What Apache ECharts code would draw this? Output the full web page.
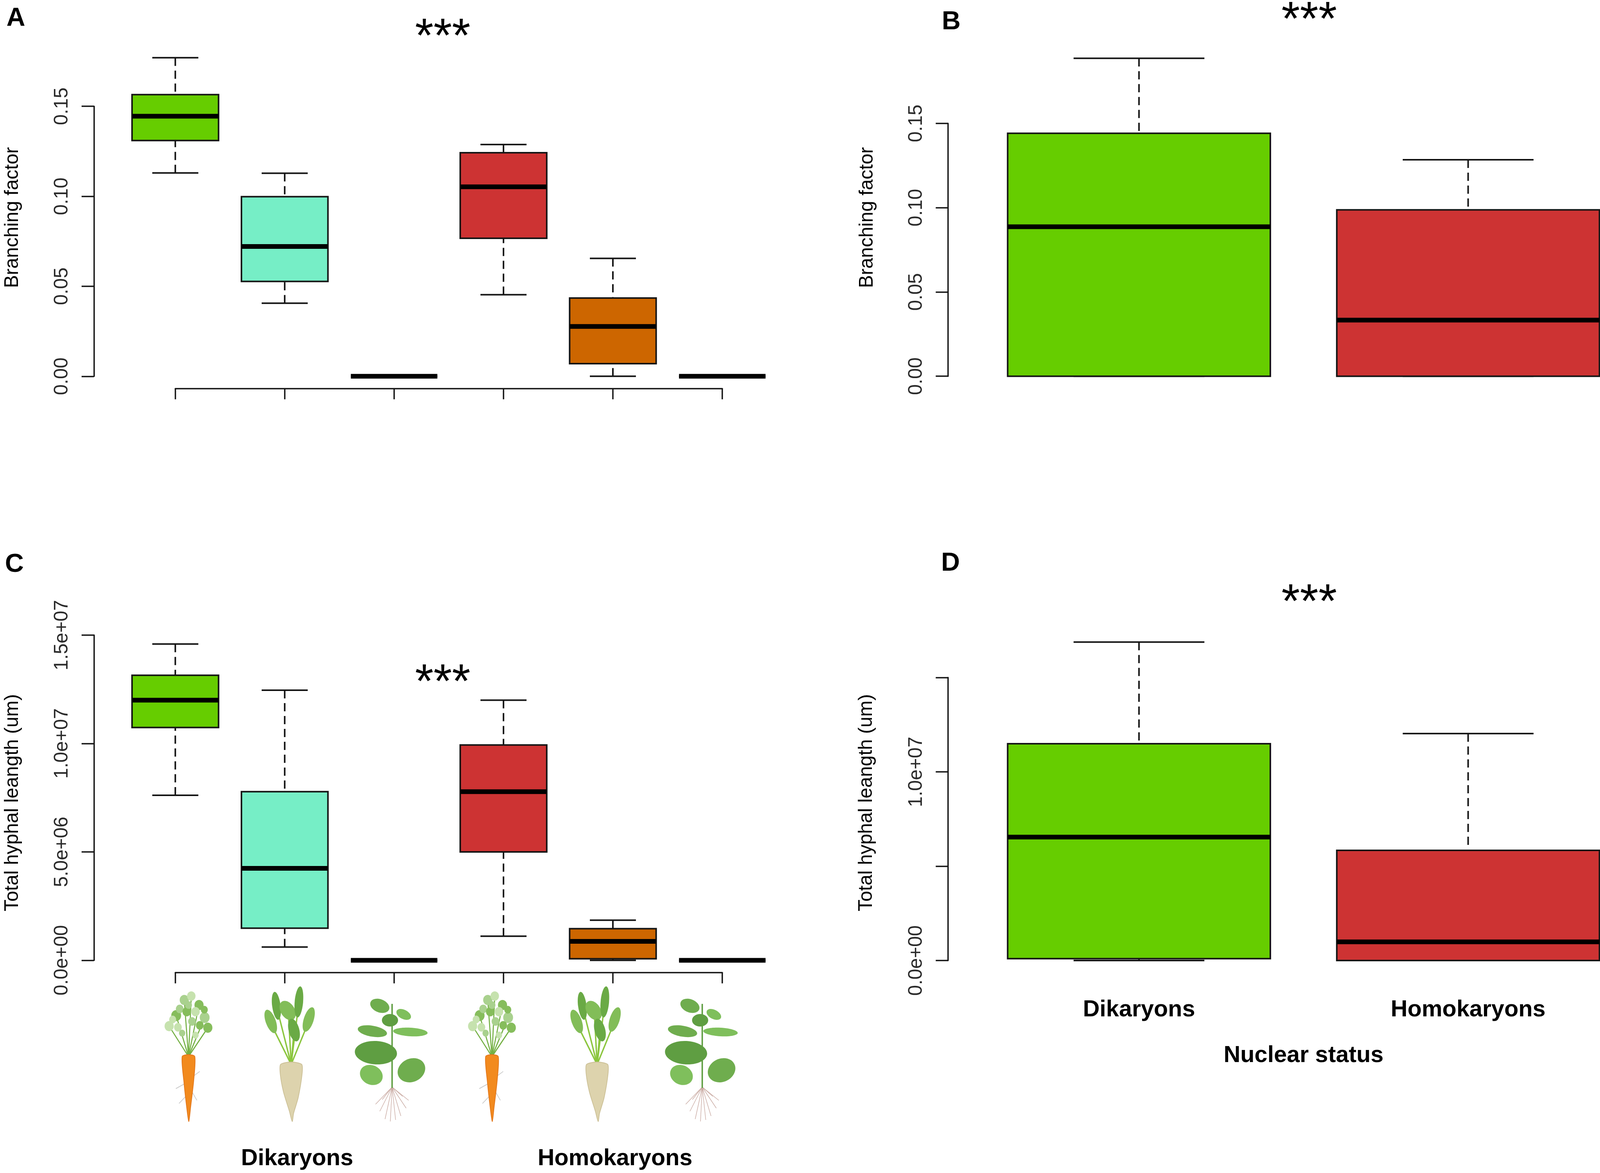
<!DOCTYPE html>
<html>
<head>
<meta charset="utf-8">
<title>Branching factor and total hyphal length</title>
<script src="https://cdn.jsdelivr.net/npm/echarts@6/dist/echarts.min.js"></script>
<style>
  html, body { margin: 0; padding: 0; background: #fff; overflow: hidden; }
  #chart { width: 100vw; height: 100vh; }
</style>
</head>
<body>
<div id="chart"></div>
<script>
// box stats per group: [lower whisker, Q1, median, Q3, upper whisker]
// groups 1-3 dikaryons, 4-6 homokaryons (carrot, sugar beet, plant)
var hostBranching = [
  [0.113, 0.131, 0.1445, 0.1565, 0.177],
  [0.0406, 0.0527, 0.0721, 0.0998, 0.1128],
  [0, 0, 0, 0, 0],
  [0.0453, 0.0767, 0.1053, 0.1242, 0.1288],
  [0, 0.007, 0.0277, 0.0435, 0.0655],
  [0, 0, 0, 0, 0]
];
var hostLength = [
  [7.61e6, 1.074e7, 1.2e7, 1.315e7, 1.459e7],
  [6.1e5, 1.48e6, 4.24e6, 7.78e6, 1.246e7],
  [0, 0, 0, 0, 0],
  [1.11e6, 5.0e6, 7.78e6, 9.93e6, 1.2e7],
  [0, 7e4, 8.7e5, 1.46e6, 1.85e6],
  [0, 0, 0, 0, 0]
];
var nuclearGroups = ['Dikaryons', 'Homokaryons'];
var nuclearBranching = [
  [0, 0, 0.0887, 0.1441, 0.1886],
  [0, 0, 0.0333, 0.0987, 0.1284]
];
var nuclearLength = [
  [0, 1e5, 6.54e6, 1.149e7, 1.688e7],
  [0, 0, 9.9e5, 5.84e6, 1.203e7]
];
var branchTicks = ['0.00', '0.05', '0.10', '0.15'];
var lengthTicks = ['0.0e+00', '5.0e+06', '1.0e+07', '1.5e+07'];
var lengthTicksD = ['0.0e+00', '', '1.0e+07', ''];

var hostColors = ['#66CD00', '#76EEC6', '#4F94CD', '#CD3333', '#CD6600', '#4F94CD'];
var nuclearColors = ['#66CD00', '#CD3333'];

var FONT = 'Liberation Sans, Arial, sans-serif';
var INK = '#151515';

// layout is laid out on a 4550 x 3003 sheet and fitted to the actual window
var sx = window.innerWidth / 4550;
var sy = window.innerHeight / 3003;
function px(v) { return v * sx; }
function py(v) { return v * sy; }

function toRows(stats) {
  return stats.map(function (s, i) { return [i + 1].concat(s); });
}

function boxRenderer(colors, boxW, capW) {
  return function (params, api) {
    var x = api.value(0);
    var lo = api.coord([x, api.value(1)]);
    var q1 = api.coord([x, api.value(2)]);
    var md = api.coord([x, api.value(3)]);
    var q3 = api.coord([x, api.value(4)]);
    var hi = api.coord([x, api.value(5)]);
    var cx = lo[0];
    var dash = { stroke: INK, lineWidth: 4, lineDash: [21, 12] };
    var solid = { stroke: INK, lineWidth: 4 };
    return {
      type: 'group',
      children: [
        { type: 'line', shape: { x1: cx, y1: hi[1], x2: cx, y2: q3[1] }, style: dash },
        { type: 'line', shape: { x1: cx, y1: lo[1], x2: cx, y2: q1[1] }, style: dash },
        { type: 'line', shape: { x1: cx - capW / 2, y1: hi[1], x2: cx + capW / 2, y2: hi[1] }, style: solid },
        { type: 'line', shape: { x1: cx - capW / 2, y1: lo[1], x2: cx + capW / 2, y2: lo[1] }, style: solid },
        { type: 'rect', shape: { x: cx - boxW / 2, y: q3[1], width: boxW, height: q1[1] - q3[1] },
          style: { fill: colors[params.dataIndex], stroke: INK, lineWidth: 4 } },
        { type: 'line', shape: { x1: cx - boxW / 2, y1: md[1], x2: cx + boxW / 2, y2: md[1] },
          style: { stroke: '#000', lineWidth: 12 } }
      ]
    };
  };
}

function yAxisOf(grid, max, interval, offset, ticks) {
  return {
    type: 'value', gridIndex: grid, min: 0, max: max, interval: interval, offset: px(offset),
    axisLine: { show: true, onZero: false, lineStyle: { color: INK, width: 3.5 } },
    axisTick: { show: true, length: px(35), lineStyle: { color: INK, width: 3.5 } },
    splitLine: { show: false },
    axisLabel: {
      rotate: 90, margin: px(62), fontSize: px(55), fontFamily: FONT, color: '#2a2a2a',
      formatter: function (v, i) { return ticks[i]; }
    }
  };
}

// decorative host-plant icons under panel C (local coords, origin at icon top centre)
function carrot() {
  var ch = [];
  var tips = [[-35, 55], [-12, 15], [8, 5], [30, 28], [46, 60], [-55, 82], [55, 86]];
  tips.forEach(function (t) {
    ch.push({ type: 'line', shape: { x1: 0, y1: 160, x2: t[0], y2: t[1] }, style: { stroke: '#74b044', lineWidth: 3 } });
  });
  var leaf = [[-35, 55, 14], [-12, 15, 13], [8, 5, 12], [30, 28, 13], [46, 60, 14], [-55, 82, 13], [55, 86, 13],
    [-25, 38, 11], [20, 45, 12], [-5, 45, 12], [10, 70, 11], [-30, 85, 11], [32, 80, 11], [0, 28, 10],
    [-45, 65, 10], [45, 40, 10], [-18, 100, 9], [20, 105, 9]];
  leaf.forEach(function (l, i) {
    ch.push({ type: 'circle', shape: { cx: l[0], cy: l[1], r: l[2] },
      style: { fill: ['#86bd5c', '#a9d18e', '#c6e2ae'][i % 3] } });
  });
  [[-12, 230, -36, 242], [14, 210, 32, 198], [-8, 262, -27, 280], [10, 250, 24, 272]].forEach(function (h) {
    ch.push({ type: 'line', shape: { x1: h[0], y1: h[1], x2: h[2], y2: h[3] }, style: { stroke: '#cccccc', lineWidth: 2 } });
  });
  ch.push({ type: 'polygon', shape: { smooth: 0.25, points: [[-18, 160], [0, 155], [18, 160], [15, 220],
    [6, 290], [1, 326], [-4, 298], [-13, 225]] },
    style: { fill: '#f28a1e', stroke: '#e2761a', lineWidth: 2 } });
  return ch;
}

function beet() {
  var ch = [];
  var tips = [[-58, 75], [-42, 30], [-8, 45], [22, 20], [50, 70], [8, 95]];
  tips.forEach(function (t) {
    ch.push({ type: 'line', shape: { x1: 0, y1: 180, x2: t[0], y2: t[1] }, style: { stroke: '#8cc63f', lineWidth: 4 } });
  });
  var leaves = [[-58, 70, 14, 32, 0.4], [-42, 30, 12, 36, 0.15], [-10, 42, 19, 28, 0.7], [22, 20, 12, 40, -0.1],
    [50, 65, 14, 33, -0.35], [8, 92, 15, 30, 0.3]];
  leaves.forEach(function (l, i) {
    ch.push({ type: 'ellipse', x: l[0], y: l[1], rotation: l[4], shape: { cx: 0, cy: 0, rx: l[2], ry: l[3] },
      style: { fill: i % 2 ? '#6aaa45' : '#82bd58' } });
  });
  ch.push({ type: 'polygon', shape: { smooth: 0.25, points: [[-30, 180], [0, 174], [30, 180], [31, 205],
    [20, 265], [7, 305], [3, 326], [-5, 300], [-22, 250], [-31, 205]] },
    style: { fill: '#ddd3ad', stroke: '#cbbf95', lineWidth: 2 } });
  return ch;
}

function herb() {
  var ch = [];
  [[-35, 300], [-20, 320], [-5, 326], [10, 322], [25, 312], [40, 292], [-47, 282], [47, 272], [-28, 270], [30, 262]].forEach(function (r) {
    ch.push({ type: 'line', shape: { x1: 0, y1: 238, x2: r[0], y2: r[1] }, style: { stroke: '#c8a8a0', lineWidth: 1.5 } });
  });
  ch.push({ type: 'line', shape: { x1: 0, y1: 25, x2: 0, y2: 240 }, style: { stroke: '#5c9c3e', lineWidth: 4 } });
  var leaves = [[-35, 30, 28, 17, -0.3], [33, 52, 22, 12, -0.4], [-6, 67, 23, 16, 0], [-56, 95, 42, 14, -0.15],
    [52, 97, 49, 11, -0.05], [-46, 150, 60, 30, -0.05], [55, 195, 40, 30, 0.3], [-59, 207, 33, 25, -0.3]];
  leaves.forEach(function (l, i) {
    ch.push({ type: 'ellipse', x: l[0], y: l[1], rotation: l[4], shape: { cx: 0, cy: 0, rx: l[2], ry: l[3] },
      style: { fill: ['#6fad4e', '#7fbf5c', '#5f9e42'][i % 3] } });
  });
  return ch;
}

function icon(children, cx, top) {
  return { type: 'group', x: px(cx), y: py(top), scaleX: sx, scaleY: sy, children: children };
}

var icons = [
  icon(carrot(), 536, 2545), icon(beet(), 828, 2545), icon(herb(), 1115, 2545),
  icon(carrot(), 1399, 2545), icon(beet(), 1698, 2545), icon(herb(), 1997, 2545)
];

function txt(x, y, s, size, weight, rot) {
  return { type: 'text', x: px(x), y: py(y), rotation: rot || 0,
    style: { text: s, fontSize: px(size), fontWeight: weight || 'normal', fontFamily: FONT, fill: '#000',
      textAlign: 'center', textVerticalAlign: 'middle', align: 'center', verticalAlign: 'middle' } };
}

var texts = [
  txt(45, 48, 'A', 74, 'bold'), txt(2705, 57, 'B', 74, 'bold'),
  txt(41, 1446, 'C', 74, 'bold'), txt(2703, 1443, 'D', 74, 'bold'),
  txt(1259, 98, '***', 135), txt(3723, 55, '***', 135),
  txt(1259, 1751, '***', 135), txt(3723, 1546, '***', 135),
  txt(36, 557, 'Branching factor', 55, 'normal', Math.PI / 2),
  txt(2466, 557, 'Branching factor', 55, 'normal', Math.PI / 2),
  txt(36, 2055, 'Total hyphal leangth (um)', 55, 'normal', Math.PI / 2),
  txt(2464, 2055, 'Total hyphal leangth (um)', 55, 'normal', Math.PI / 2),
  txt(845, 2967, 'Dikaryons', 66, 'bold'),
  txt(1749, 2967, 'Homokaryons', 66, 'bold')
];

var hiddenX = function (grid, max) {
  return { type: 'value', gridIndex: grid, min: 1, max: max, interval: 1,
    axisLine: { show: false, onZero: false }, axisTick: { show: false }, axisLabel: { show: false }, splitLine: { show: false } };
};
var hostX = function (grid) {
  return { type: 'value', gridIndex: grid, min: 1, max: 6, interval: 1, offset: py(31),
    axisLine: { show: true, onZero: false, lineStyle: { color: INK, width: 3.5 } },
    axisTick: { show: true, length: py(28), lineStyle: { color: INK, width: 3.5 } },
    axisLabel: { show: false }, splitLine: { show: false } };
};

function gridAt(left, top, width, height) {
  return { left: px(left), top: py(top), width: px(width), height: py(height) };
}

var option = {
  animation: false,
  backgroundColor: '#fff',
  grid: [
    gridAt(498.5, 272.2, 1555.5, 691.1),
    gridAt(3239, 315.9, 936, 647.3),
    gridAt(498.5, 1626, 1555.5, 832.4),
    gridAt(3239, 1734.5, 936, 724.5)
  ],
  xAxis: [
    hostX(0),
    hiddenX(1, 2),
    hostX(2),
    { type: 'value', gridIndex: 3, min: 1, max: 2, interval: 1,
      axisLine: { show: false, onZero: false }, axisTick: { show: false }, splitLine: { show: false },
      axisLabel: { margin: py(97), fontSize: px(66), fontWeight: 'bold', fontFamily: FONT, color: '#000',
        formatter: function (v) { return nuclearGroups[v - 1]; } },
      name: 'Nuclear status', nameLocation: 'middle', nameGap: py(214),
      nameTextStyle: { fontSize: px(66), fontWeight: 'bold', fontFamily: FONT, color: '#000' } }
  ],
  yAxis: [
    yAxisOf(0, 0.15, 0.05, 231.5, branchTicks),
    yAxisOf(1, 0.15, 0.05, 543, branchTicks),
    yAxisOf(2, 1.5e7, 5e6, 231.5, lengthTicks),
    yAxisOf(3, 1.5e7, 5e6, 543, lengthTicksD)
  ],
  graphic: icons.concat(texts),
  series: [
    { type: 'custom', xAxisIndex: 0, yAxisIndex: 0, clip: false, silent: true,
      renderItem: boxRenderer(hostColors, px(246), px(131)), data: toRows(hostBranching) },
    { type: 'custom', xAxisIndex: 1, yAxisIndex: 1, clip: false, silent: true,
      renderItem: boxRenderer(nuclearColors, px(747), px(372)), data: toRows(nuclearBranching) },
    { type: 'custom', xAxisIndex: 2, yAxisIndex: 2, clip: false, silent: true,
      renderItem: boxRenderer(hostColors, px(246), px(131)), data: toRows(hostLength) },
    { type: 'custom', xAxisIndex: 3, yAxisIndex: 3, clip: false, silent: true,
      renderItem: boxRenderer(nuclearColors, px(747), px(372)), data: toRows(nuclearLength) }
  ]
};

var myChart = echarts.init(document.getElementById('chart'));
myChart.setOption(option);
</script>
</body>
</html>
